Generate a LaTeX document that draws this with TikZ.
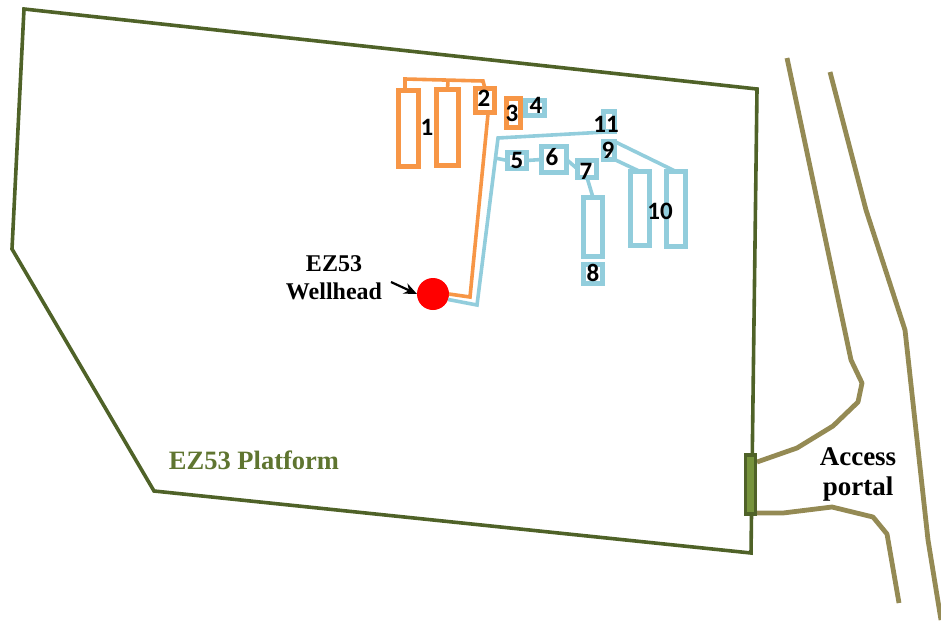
\documentclass[tikz,border=0pt]{standalone}
\usepackage{fontspec}
\setmainfont{Liberation Serif}
\newfontfamily\numfont{Carlito}
\usetikzlibrary{arrows.meta}
\definecolor{platgreen}{HTML}{4F6228}
\definecolor{labgreen}{HTML}{5F7530}
\definecolor{pipeor}{HTML}{F79646}
\definecolor{pipebl}{HTML}{92CDDC}
\definecolor{roadcol}{HTML}{948A54}
\definecolor{portalfill}{HTML}{76933C}
\tikzset{
  orbox/.style={draw=pipeor,line width=4.2pt,minimum width=#1,inner sep=0pt,outer sep=0pt},
  blbox/.style={draw=pipebl,line width=4.2pt,minimum width=#1,inner sep=0pt,outer sep=0pt},
  orpipe/.style={draw=pipeor,line width=3.6pt,line join=miter},
  blpipe/.style={draw=pipebl,line width=3.6pt,line join=miter},
  road/.style={draw=roadcol,line width=4.8pt,line join=round},
  boundary/.style={draw=platgreen,line width=3.6pt,line join=miter},
  numlab/.style={font=\numfont\bfseries\fontsize{25}{25}\selectfont,inner sep=0pt,text=black},
  serlab/.style 2 args={font=\bfseries\fontsize{#1}{#2}\selectfont,inner sep=0pt,align=center},
}
\begin{document}
\begin{tikzpicture}[x=1pt,y=-1pt]
\useasboundingbox (0,0) rectangle (941,635);
% platform
\draw[boundary] (24,9) -- (757,89) -- (751,553) -- (154,491) -- (12,249) -- cycle;
% roads
\draw[road] (787,58) -- (851,360) -- (862,383) -- (858,402) -- (833,426) -- (797,448) -- (757,462);
\draw[road] (757,513) -- (783,513) -- (832,507) -- (873,517) -- (887,534) -- (899,603);
\draw[road] (830,72) -- (866,210) -- (905,330) -- (928,540) -- (941,620);
% portal
\node[draw=platgreen,fill=portalfill,line width=3.6pt,minimum width=10pt,minimum height=59pt,inner sep=0pt,outer sep=0pt] (portal) at (750.5,484.5) {};
% wellhead
\node[circle,fill=red,minimum size=32pt,inner sep=0pt,outer sep=0pt] (well) at (433,294) {};
% orange units
\node[orbox=20pt,minimum height=76pt] (oa) at (408.5,128.5) {};
\node[orbox=22pt,minimum height=76pt] (ob) at (447.5,127.5) {};
\node[orbox=19pt,minimum height=24pt] (u2) at (485,100.5) {};
\node[orbox=14pt,minimum height=29pt] (u3) at (513.5,113) {};
% blue units
\node[blbox=19pt,minimum height=15pt] (u4) at (535,108) {};
\node[blbox=19pt,minimum height=16pt] (u5) at (517,160.5) {};
\node[blbox=25pt,minimum height=26pt] (u6) at (554,159.5) {};
\node[blbox=19pt,minimum height=17pt] (u7) at (587,169) {};
\node[blbox=19pt,minimum height=59pt] (u8a) at (593,227) {};
\node[blbox=19pt,minimum height=19pt] (u8b) at (593,274) {};
\node[blbox=11pt,minimum height=18pt] (u9) at (609,150.5) {};
\node[blbox=11pt,minimum height=20pt] (u11) at (609,121.5) {};
\node[blbox=19pt,minimum height=74pt] (ua) at (640,208.5) {};
\node[blbox=19pt,minimum height=75pt] (ub) at (676,209) {};
% orange pipes
\coordinate (oj1) at (405,79);
\coordinate (oj2) at (483,81);
\coordinate (oj3) at (448,80);
\coordinate (oj4) at (470,297);
\draw[orpipe] (oa.north -| oj1) -- (oj1) -- (oj2) -- (u2.north);
\draw[orpipe] (oj3) -- (ob.north);
\draw[orpipe] (488,114) -- (oj4) -- (well.east);
% blue pipes
\coordinate (bj1) at (498,138);
\coordinate (bj2) at (477,305);
\coordinate (bj3) at (495,158);
\draw[blpipe] (u11.south east) -- (bj1) -- (bj2) -- (well.-20);
\draw[blpipe] (bj3) -- (u5.west);
\draw[blpipe] (u5.east) -- (u6.west);
\draw[blpipe] (u6.east) -- (u7.west);
\draw[blpipe] (u7.south) -- (u8a.north);
\draw[blpipe] (u9.south east) -- (ua.north);
\draw[blpipe] (u9.north east) -- (ub.north);
% arrow
\coordinate (arr) at (391,282);
\draw[-{Stealth[length=13pt,width=11pt]},line width=2.2pt] (arr) -- (well.west);
% labels
\node[numlab] (l1) at (427,127) {1};
\node[numlab] (l2) at (484,98) {2};
\node[numlab] (l3) at (512,113) {3};
\node[numlab] (l4) at (536,105) {4};
\node[numlab] (l5) at (517,160) {5};
\node[numlab] (l6) at (552,157) {6};
\node[numlab] (l7) at (586,171) {7};
\node[numlab] (l8) at (593,273) {8};
\node[numlab] (l9) at (608,150) {9};
\node[numlab] (l10) at (660,211) {10};
\node[numlab] (l11) at (606,124) {11};
\node[serlab={24}{28}] (wh) at (334,278) {EZ53\\Wellhead};
\node[serlab={26.5}{30},text=labgreen] (pl) at (254,460) {EZ53 Platform};
\node[serlab={27}{30}] (ap) at (858,474) {Access\\portal};
\end{tikzpicture}
\end{document}
